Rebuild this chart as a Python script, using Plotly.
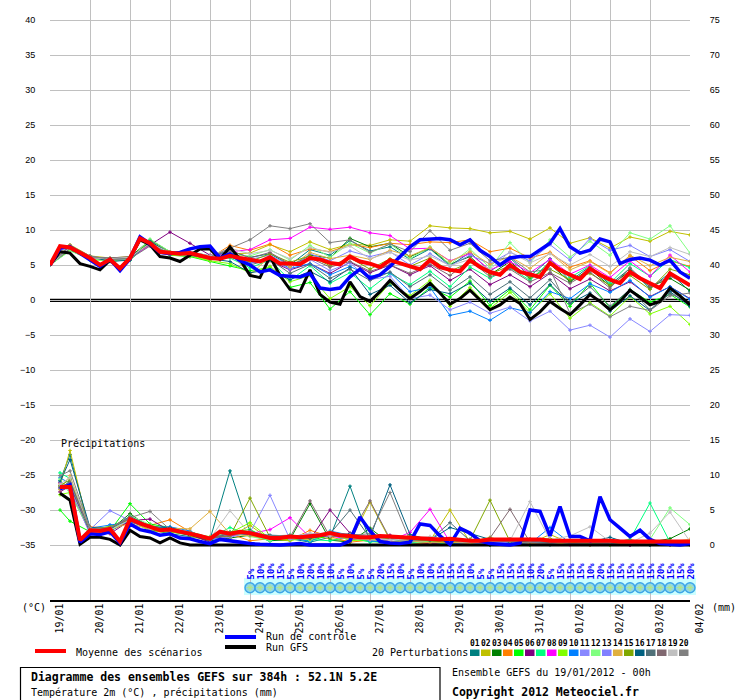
import plotly.graph_objects as go

# ---- time axis ----
day_labels = ["19/01", "20/01", "21/01", "22/01", "23/01", "24/01", "25/01", "26/01",
              "27/01", "28/01", "29/01", "30/01", "31/01", "01/02", "02/02", "03/02", "04/02"]
day_hours = list(range(0, 385, 24))
hours6 = list(range(0, 385, 6))
hours12 = list(range(0, 385, 12))
rain_hours6 = hours6[1:]
rain_hours12 = [6] + hours12[1:]

# ---- main runs, temperature (6h) ----
mean_temp = [5.0, 7.7, 7.5, 6.7, 6.0, 5.0, 5.8, 4.5, 6.0, 8.8, 8.1, 6.9, 6.7, 6.6, 6.7, 6.3,
             6.0, 5.9, 6.3, 6.0, 5.7, 5.5, 6.1, 5.2, 5.2, 5.1, 6.0, 5.8, 5.3, 5.1, 6.2, 5.5,
             5.2, 4.7, 5.7, 5.2, 4.8, 4.4, 5.7, 4.7, 4.3, 4.1, 5.7, 4.7, 4.0, 3.6, 5.0, 4.0,
             3.6, 3.3, 5.3, 4.3, 3.6, 3.0, 4.5, 3.6, 2.9, 2.4, 4.0, 3.1, 2.4, 1.7, 3.8, 2.9, 2.1]
ctrl_temp = [5.0, 7.4, 7.6, 6.7, 5.8, 4.8, 5.8, 4.2, 5.9, 9.0, 8.0, 6.8, 6.6, 6.8, 7.3, 7.6,
             7.7, 6.0, 6.6, 5.6, 5.0, 4.0, 4.3, 3.5, 3.4, 3.3, 3.8, 1.7, 1.5, 1.7, 3.3, 4.4,
             3.1, 3.6, 4.8, 6.2, 7.6, 8.6, 8.7, 8.8, 8.6, 7.9, 8.6, 7.1, 6.2, 5.0, 6.0, 6.2,
             6.2, 7.1, 8.1, 10.2, 7.6, 6.7, 7.1, 8.7, 8.3, 5.2, 5.8, 6.0, 5.7, 5.0, 5.7, 4.0, 3.1]
gfs_temp = [5.0, 6.9, 6.7, 5.2, 4.8, 4.3, 5.7, 4.5, 6.0, 8.6, 7.9, 6.2, 6.0, 5.5, 6.4, 7.3,
            7.3, 5.8, 7.6, 5.8, 3.5, 3.2, 6.2, 3.5, 1.5, 1.2, 4.3, 0.8, -0.3, -0.6, 2.6, 0.5,
            -0.2, 1.2, 2.8, 1.4, 0.2, 1.2, 2.4, 1.0, -0.6, 0.2, 1.4, 0.0, -1.4, -0.7, 0.4, -0.5,
            -2.8, -1.7, -0.2, -1.2, -2.1, -0.7, 0.8, -0.2, -1.4, -0.2, 1.4, 0.4, -0.7, -0.2, 1.7, 0.6, -0.7]

# ---- main runs, precipitation (6h, mm) ----
mean_rain = [8.3, 8.3, 0.7, 2.1, 2.0, 2.3, 0.5, 3.7, 3.1, 2.6, 2.1, 2.2, 1.9, 1.7, 1.3, 0.9,
             1.9, 1.6, 1.9, 1.7, 1.3, 1.0, 1.0, 1.2, 1.1, 1.2, 1.4, 1.7, 1.4, 1.3, 1.1, 1.1,
             1.3, 1.2, 1.1, 1.0, 0.9, 0.9, 0.8, 0.9, 0.7, 0.6, 0.6, 0.8, 0.8, 0.8, 0.8, 0.9,
             0.8, 0.6, 0.6, 0.6, 0.7, 0.6, 0.6, 0.6, 0.5, 0.5, 0.6, 0.6, 0.5, 0.5, 0.6, 0.5]
ctrl_rain = [8.0, 8.6, 0.4, 1.6, 1.5, 1.9, 0.3, 3.0, 2.2, 1.9, 1.4, 1.6, 1.0, 0.9, 0.5, 0.2,
             0.8, 0.6, 0.3, 0.2, 0.1, 0.0, 0.0, 0.1, 0.2, 0.0, 0.0, 0.1, 0.0, 0.6, 4.0, 2.0,
             0.5, 0.3, 0.2, 0.4, 3.0, 2.8, 1.3, 0.1, 2.4, 1.7, 0.6, 0.2, 0.1, 0.0, 0.3, 5.0,
             4.8, 1.3, 5.5, 1.2, 1.2, 0.6, 6.9, 3.6, 2.4, 1.2, 2.1, 0.8, 0.2, 0.1, 0.0, 0.2]
gfs_rain = [7.4, 6.4, 0.1, 1.1, 1.1, 0.8, 0.0, 2.1, 1.2, 1.0, 0.3, 1.0, 0.3, 0.0, 0.0, 0.0,
            0.1, 0.0, 0.0, 0.0, 0.0, 0.0, 0.0, 0.0, 0.0, 0.0, 0.0, 0.0, 0.0, 0.0, 0.0, 0.0,
            0.0, 0.0, 0.0, 0.0, 0.0, 0.0, 0.0, 0.0, 0.0, 0.0, 0.0, 0.0, 0.0, 0.0, 0.0, 0.0,
            0.0, 0.0, 0.0, 0.0, 0.0, 0.0, 0.0, 0.0, 0.0, 0.0, 0.0, 0.0, 0.0, 0.0, 0.0, 0.0]

# ---- 20 perturbations, temperature (12h) ----
p01_temp = [5.0, 7.3, 6.2, 5.6, 5.8, 8.4, 6.5, 6.9, 6.3, 7.0, 6.1, 6.6, 5.0, 7.2, 6.4, 8.5, 7.0, 7.6, 5.8, 7.3, 4.9, 6.8, 4.1, 6.0, 3.4, 5.9, 2.7, 4.8, 2.2, 4.5, 1.6, 3.9, 1.2]
p02_temp = [5.0, 7.9, 6.3, 6.0, 6.2, 8.0, 6.8, 6.4, 5.7, 6.6, 6.7, 7.9, 6.9, 8.3, 7.2, 8.0, 7.8, 8.6, 8.4, 10.6, 10.3, 10.2, 9.6, 9.8, 8.7, 10.3, 8.1, 8.9, 7.4, 9.0, 8.4, 9.8, 9.3]
p03_temp = [5.0, 7.1, 5.8, 5.9, 6.1, 8.6, 6.9, 6.5, 5.9, 6.2, 5.4, 5.9, 4.8, 6.4, 6.0, 8.8, 7.6, 8.1, 6.2, 7.4, 5.1, 6.2, 3.6, 5.5, 3.0, 5.1, 2.6, 4.4, 2.0, 4.2, 1.9, 3.1, 1.4]
p04_temp = [5.0, 7.6, 6.1, 5.7, 5.9, 7.9, 6.6, 6.8, 6.0, 7.8, 7.1, 8.0, 6.4, 7.3, 6.9, 7.9, 7.5, 8.1, 7.9, 8.3, 8.2, 8.6, 6.9, 7.4, 6.0, 6.8, 4.7, 5.6, 3.9, 6.3, 4.2, 5.6, 4.8]
p05_temp = [5.0, 7.4, 5.9, 5.6, 5.7, 8.3, 6.4, 6.2, 5.5, 4.9, 4.2, 4.6, 1.8, 2.5, -1.3, 1.2, -2.1, 0.9, -0.6, 1.8, 0.4, 2.7, -0.8, 1.5, -1.4, 2.1, -0.9, 2.4, -1.1, 1.5, -0.3, 0.8, -1.0]
p06_temp = [5.0, 7.2, 6.0, 5.9, 6.0, 7.9, 9.7, 8.1, 6.4, 6.5, 5.4, 5.6, 4.3, 5.2, 3.8, 5.4, 3.9, 5.0, 3.6, 4.9, 2.8, 4.4, 2.2, 3.6, 1.9, 3.8, 1.6, 3.0, 1.3, 2.6, 0.5, 1.9, 0.2]
p07_temp = [5.0, 7.5, 5.7, 5.8, 6.1, 8.2, 6.6, 6.6, 6.0, 6.0, 4.6, 5.7, 2.8, 4.9, 2.4, 3.9, 1.6, 3.8, 2.2, 4.1, 1.9, 4.7, 3.1, 4.6, 2.8, 5.5, 3.2, 4.9, 2.4, 5.2, 3.4, 5.8, 4.6]
p08_temp = [5.0, 7.7, 6.1, 5.8, 6.0, 7.8, 6.6, 6.5, 6.0, 6.9, 7.2, 8.6, 8.8, 10.4, 10.1, 10.4, 9.6, 9.2, 7.3, 7.4, 5.6, 6.6, 4.3, 5.5, 3.9, 5.8, 3.7, 5.0, 3.2, 5.6, 3.4, 6.4, 4.0]
p09_temp = [5.0, 7.3, 5.8, 5.6, 5.8, 8.5, 6.4, 6.3, 5.6, 5.2, 3.9, 4.8, 2.6, 3.5, 0.2, 1.9, -0.8, 2.4, 0.6, 2.8, -0.9, 1.8, -1.2, 1.1, -1.8, 0.9, -2.6, -0.4, -2.3, 0.5, -2.0, -0.9, -3.5]
p10_temp = [5.0, 7.6, 6.0, 5.9, 5.9, 8.2, 6.6, 6.8, 6.2, 6.9, 5.2, 6.1, 4.5, 5.2, 3.6, 4.8, 3.4, 3.9, 1.2, 1.8, -2.2, -1.6, -2.9, -1.1, -1.8, 1.2, 0.2, 2.3, 1.1, 2.8, 0.4, 1.9, 0.1]
p11_temp = [5.0, 7.5, 6.0, 5.7, 5.9, 8.1, 6.7, 6.9, 6.1, 6.5, 5.8, 6.4, 4.9, 5.8, 4.2, 5.3, 2.9, 3.4, 0.2, 0.7, -1.4, -0.3, -1.9, -1.0, -3.0, -1.6, -4.3, -3.6, -5.3, -2.7, -4.5, -2.1, -2.2]
p12_temp = [5.0, 7.0, 5.9, 5.5, 5.8, 8.7, 6.9, 6.6, 6.1, 6.4, 6.3, 7.2, 5.7, 7.8, 6.1, 8.1, 6.7, 8.0, 5.9, 7.6, 5.1, 7.3, 4.6, 8.2, 5.3, 8.6, 6.1, 8.4, 6.4, 9.6, 8.7, 10.6, 6.7]
p13_temp = [5.0, 7.4, 6.2, 5.9, 6.1, 8.0, 6.5, 6.7, 6.1, 6.2, 5.3, 5.9, 4.4, 6.6, 5.6, 7.0, 6.2, 6.9, 5.0, 6.6, 4.9, 6.4, 5.2, 6.8, 5.6, 7.9, 5.7, 8.8, 7.1, 7.8, 6.2, 7.2, 5.5]
p14_temp = [5.0, 7.8, 6.0, 5.8, 6.1, 8.0, 6.7, 6.6, 5.8, 6.8, 3.6, 6.2, 4.7, 6.8, 5.9, 6.4, 5.8, 7.1, 6.3, 7.5, 5.5, 6.9, 5.1, 6.2, 4.5, 6.7, 4.3, 5.5, 3.8, 6.4, 4.9, 6.1, 5.5]
p15_temp = [5.0, 7.5, 6.1, 5.8, 6.0, 8.3, 6.8, 6.7, 6.0, 6.1, 5.5, 6.6, 5.4, 6.3, 4.9, 6.0, 4.4, 5.9, 4.8, 6.0, 4.1, 5.4, 3.7, 4.9, 3.3, 4.4, 2.9, 3.8, 2.1, 3.5, 1.5, 4.4, 3.6]
p16_temp = [5.0, 7.6, 6.2, 5.5, 5.7, 8.4, 6.7, 6.4, 5.9, 5.5, 3.9, 4.3, 2.9, 4.1, 2.6, 4.6, 0.8, 2.1, -0.4, 1.5, 0.9, 2.4, -0.2, 1.7, -0.7, 2.2, -0.5, 1.0, -1.6, 0.6, -1.5, 1.2, -0.9]
p17_temp = [5.0, 7.4, 6.0, 5.9, 6.0, 8.2, 6.6, 6.8, 6.0, 6.3, 5.0, 5.8, 3.8, 5.1, 3.1, 4.4, 2.8, 4.0, 1.9, 3.6, 1.4, 3.3, 0.8, 2.6, 0.3, 2.9, -0.4, 1.9, -0.9, 1.5, -1.4, 0.9, -0.4]
p18_temp = [5.0, 7.7, 6.1, 6.0, 6.2, 8.0, 6.5, 6.9, 6.2, 7.1, 6.0, 6.8, 5.1, 6.0, 4.7, 5.5, 4.1, 5.0, 3.8, 5.1, 3.5, 5.7, 3.3, 4.4, 2.6, 3.9, 2.4, 4.0, 1.7, 4.6, 1.9, 3.4, 2.1]
p19_temp = [5.0, 7.5, 6.0, 5.9, 6.1, 8.1, 6.8, 6.9, 6.3, 7.4, 6.6, 7.1, 5.9, 7.5, 6.8, 7.7, 5.9, 6.8, 5.7, 6.3, 4.9, 5.8, 4.4, 6.9, 5.3, 6.6, 5.0, 6.5, 4.8, 6.9, 6.2, 7.5, 6.5]
p20_temp = [5.0, 7.8, 6.3, 5.8, 5.9, 7.7, 6.6, 6.4, 6.1, 7.4, 8.6, 10.6, 10.2, 10.9, 8.2, 8.6, 6.8, 8.0, 6.9, 9.9, 7.1, 8.1, 5.6, 6.1, 4.0, 4.4, -1.9, -0.6, -2.4, -0.9, -1.5, 0.6, 1.0]

# ---- 20 perturbations, precipitation (6h then 12h, mm) ----
p01_rain = [9.2, 12.9, 1.8, 2.0, 3.4, 2.2, 1.6, 1.2, 0.8, 10.6, 1.9, 0.7, 0.9, 0.4, 1.1, 8.4, 0.6, 0.4, 0.2, 0.1, 0.8, 0.3, 0.0, 0.4, 0.2, 0.0, 0.1, 0.0, 0.3, 0.0, 0.0, 0.2, 0.1]
p02_rain = [8.4, 13.5, 1.5, 2.6, 3.9, 2.1, 2.4, 1.3, 0.5, 1.2, 2.8, 0.8, 0.6, 1.4, 0.9, 0.5, 6.1, 0.7, 1.3, 0.6, 5.0, 0.4, 1.1, 0.3, 0.2, 1.5, 0.3, 0.8, 0.2, 0.4, 0.0, 0.6, 0.3]
p03_rain = [8.0, 9.1, 2.2, 2.1, 4.5, 2.4, 1.9, 1.4, 0.6, 1.0, 1.4, 0.6, 0.8, 5.9, 0.7, 0.4, 2.4, 0.2, 0.6, 0.3, 0.5, 0.1, 0.0, 0.2, 0.6, 0.1, 0.2, 0.3, 0.1, 0.0, 0.4, 0.9, 2.3]
p04_rain = [8.8, 8.1, 2.6, 2.4, 3.2, 2.8, 3.6, 1.9, 0.9, 1.6, 0.6, 0.9, 0.7, 2.1, 1.2, 0.4, 0.7, 1.1, 0.3, 0.2, 0.4, 0.6, 0.2, 0.3, 0.1, 0.5, 0.2, 0.0, 0.3, 0.8, 0.2, 0.0, 0.1]
p05_rain = [5.0, 3.4, 1.9, 2.0, 5.9, 3.0, 2.5, 1.6, 0.7, 1.9, 2.2, 0.8, 1.0, 0.6, 1.4, 0.9, 0.5, 0.3, 0.8, 0.6, 0.2, 0.4, 0.1, 0.2, 0.0, 0.3, 0.1, 0.2, 0.0, 0.1, 0.0, 0.0, 0.1]
p06_rain = [7.6, 8.4, 2.5, 1.6, 3.5, 3.7, 2.0, 1.5, 0.4, 1.3, 2.0, 1.1, 0.9, 0.8, 5.0, 1.7, 0.9, 1.4, 0.5, 0.2, 0.3, 0.2, 0.4, 0.6, 0.8, 0.2, 0.1, 0.4, 0.2, 0.0, 0.0, 0.3, 0.0]
p07_rain = [10.3, 9.5, 2.3, 2.2, 3.8, 2.7, 2.1, 1.8, 1.0, 2.5, 1.4, 0.6, 1.5, 0.8, 0.6, 1.2, 0.4, 0.9, 0.3, 0.5, 0.0, 0.2, 0.6, 0.1, 0.0, 0.3, 0.2, 0.1, 0.2, 0.8, 6.0, 0.4, 0.3]
p08_rain = [8.9, 7.8, 1.7, 2.4, 4.0, 2.3, 2.4, 1.7, 0.8, 1.4, 1.6, 2.2, 3.9, 1.1, 1.3, 0.8, 1.0, 0.6, 1.8, 5.1, 0.4, 0.3, 0.7, 0.2, 0.4, 0.2, 0.0, 0.6, 0.1, 0.0, 0.2, 0.0, 0.4]
p09_rain = [7.2, 7.5, 2.0, 2.7, 3.6, 2.0, 1.8, 1.6, 1.2, 1.7, 3.2, 0.9, 0.7, 0.9, 1.8, 0.6, 0.8, 0.5, 0.6, 0.9, 0.2, 0.8, 0.3, 0.5, 0.3, 0.4, 0.6, 0.2, 0.0, 0.3, 0.1, 0.2, 0.0]
p10_rain = [9.6, 8.8, 2.4, 2.9, 3.3, 2.5, 2.6, 2.0, 0.7, 1.5, 1.9, 1.2, 1.1, 0.5, 2.0, 1.4, 0.6, 0.3, 0.4, 0.8, 0.3, 0.1, 0.5, 0.4, 0.2, 2.5, 0.3, 0.2, 0.5, 0.1, 0.0, 0.1, 0.2]
p11_rain = [8.1, 8.0, 1.6, 2.5, 3.7, 2.6, 2.3, 1.5, 0.9, 1.1, 1.8, 7.1, 0.8, 1.2, 1.5, 1.0, 0.7, 0.8, 0.6, 0.4, 0.6, 0.3, 0.2, 0.6, 0.3, 0.5, 0.4, 0.1, 0.2, 0.3, 0.1, 0.0, 0.2]
p12_rain = [9.4, 7.3, 2.1, 2.0, 4.2, 2.9, 2.0, 1.9, 1.1, 1.8, 1.2, 0.7, 1.4, 0.7, 1.9, 1.1, 0.9, 0.4, 0.2, 0.6, 0.5, 0.4, 0.3, 0.2, 0.5, 0.6, 0.4, 0.2, 0.3, 0.2, 0.8, 5.3, 2.9]
p13_rain = [8.6, 8.7, 2.2, 4.9, 3.5, 2.4, 2.2, 1.8, 0.8, 1.5, 1.6, 1.3, 1.2, 1.6, 1.7, 1.2, 1.3, 0.8, 0.7, 0.9, 0.6, 0.5, 0.2, 0.4, 0.3, 0.2, 0.3, 0.4, 0.1, 0.2, 0.3, 0.6, 0.4]
p14_rain = [7.9, 9.9, 2.0, 2.2, 3.1, 2.2, 2.4, 2.3, 4.8, 1.6, 1.3, 0.9, 1.0, 0.8, 1.6, 0.9, 0.8, 0.5, 0.6, 0.3, 0.4, 0.2, 0.6, 0.7, 0.2, 0.1, 0.3, 0.5, 0.6, 0.3, 0.2, 0.5, 0.8]
p15_rain = [8.5, 9.3, 2.3, 2.6, 3.6, 2.8, 2.1, 1.7, 1.0, 1.3, 6.7, 1.1, 1.2, 0.9, 1.5, 1.0, 1.2, 0.9, 0.7, 0.6, 0.4, 0.7, 6.4, 0.5, 0.8, 0.9, 0.4, 0.2, 0.3, 0.2, 0.4, 0.3, 0.5]
p16_rain = [9.0, 12.2, 2.5, 2.3, 3.9, 2.6, 2.5, 1.7, 0.9, 1.7, 1.5, 1.4, 1.3, 1.0, 1.4, 1.6, 1.1, 8.6, 1.5, 0.7, 2.5, 1.6, 0.8, 0.4, 0.6, 0.3, 0.5, 0.4, 1.1, 0.2, 0.4, 0.3, 0.2]
p17_rain = [8.3, 8.5, 1.8, 2.3, 4.1, 2.7, 2.2, 1.6, 0.8, 1.8, 1.5, 1.0, 1.3, 1.3, 1.6, 5.0, 1.0, 1.2, 0.8, 0.7, 3.2, 0.6, 0.4, 0.9, 0.5, 0.3, 0.7, 0.5, 0.3, 0.4, 0.3, 0.2, 0.1]
p18_rain = [8.2, 9.0, 2.1, 2.4, 3.8, 2.4, 2.3, 1.9, 1.0, 1.4, 1.8, 1.2, 1.1, 6.3, 1.2, 1.3, 6.3, 0.9, 1.1, 0.8, 0.7, 0.5, 1.0, 5.1, 0.4, 0.6, 0.2, 0.3, 0.2, 0.5, 0.1, 0.3, 0.2]
p19_rain = [8.7, 9.6, 2.4, 2.1, 3.6, 2.3, 2.1, 1.5, 0.9, 4.9, 1.6, 1.0, 1.1, 1.7, 1.3, 1.5, 1.1, 0.7, 0.9, 1.2, 0.8, 0.4, 0.5, 0.6, 6.2, 0.7, 1.3, 2.6, 0.5, 0.3, 1.7, 4.7, 0.5]
p20_rain = [9.9, 10.6, 2.3, 2.5, 3.9, 4.8, 2.2, 1.8, 1.1, 1.7, 1.9, 1.3, 1.4, 1.2, 1.8, 1.4, 1.6, 7.5, 0.6, 0.9, 0.5, 0.8, 0.6, 0.5, 0.4, 0.2, 0.6, 0.3, 0.4, 0.2, 0.5, 0.1, 0.3]

pert_colors = ["#008080", "#c0c000", "#008000", "#ff8000", "#00ff00", "#800080", "#00ff80",
               "#ff00ff", "#80ff00", "#0080ff", "#8888ff", "#80ff80", "#8080ff", "#e0b040",
               "#80a800", "#006080", "#507078", "#806870", "#c0c0c0", "#808080"]
pert_names = ["%02d" % k for k in range(1, 21)]

# snow probability strip
snow_hours = list(range(120, 385, 6))
snow_pct = [5, 10, 10, 15, 5, 10, 20, 10, 10, 5, 10, 5, 5, 20, 15, 10, 5, 10, 10, 15, 15, 15,
            10, 5, 5, 15, 15, 15, 10, 20, 5, 15, 15, 15, 10, 20, 15, 15, 15, 15, 15, 20, 15, 15, 20]

pert_temp = [p01_temp, p02_temp, p03_temp, p04_temp, p05_temp, p06_temp, p07_temp, p08_temp,
             p09_temp, p10_temp, p11_temp, p12_temp, p13_temp, p14_temp, p15_temp, p16_temp,
             p17_temp, p18_temp, p19_temp, p20_temp]
pert_rain = [p01_rain, p02_rain, p03_rain, p04_rain, p05_rain, p06_rain, p07_rain, p08_rain,
             p09_rain, p10_rain, p11_rain, p12_rain, p13_rain, p14_rain, p15_rain, p16_rain,
             p17_rain, p18_rain, p19_rain, p20_rain]

W, H = 740, 700
ML, MR, MT, MB = 50, 50, 0, 100
MONO = "DejaVu Sans Mono"
YSPAN = 300 / 7  # 7 px per degree, 600 px plot


def px(x):
    return (x - ML) / (W - ML - MR)


def py(y):
    return (H - MB - y) / (H - MT - MB)


fig = go.Figure()

for vals, col in zip(pert_temp, pert_colors):
    fig.add_trace(go.Scatter(x=hours12, y=vals, mode="lines+markers",
                             line=dict(color=col, width=1),
                             marker=dict(symbol="cross", size=3, color=col),
                             hoverinfo="skip", showlegend=False))
for vals, col in zip(pert_rain, pert_colors):
    fig.add_trace(go.Scatter(x=rain_hours12, y=vals, yaxis="y2", mode="lines+markers",
                             line=dict(color=col, width=1),
                             marker=dict(symbol="cross", size=3, color=col),
                             hoverinfo="skip", showlegend=False))

fig.add_trace(go.Scatter(x=hours6, y=gfs_temp, mode="lines", line=dict(color="black", width=3), showlegend=False))
fig.add_trace(go.Scatter(x=hours6, y=ctrl_temp, mode="lines", line=dict(color="#0000ff", width=3.5), showlegend=False))
fig.add_trace(go.Scatter(x=hours6, y=mean_temp, mode="lines", line=dict(color="#ff0000", width=4), showlegend=False))
fig.add_trace(go.Scatter(x=rain_hours6, y=gfs_rain, yaxis="y2", mode="lines", line=dict(color="black", width=3), showlegend=False))
fig.add_trace(go.Scatter(x=rain_hours6, y=ctrl_rain, yaxis="y2", mode="lines", line=dict(color="#0000ff", width=3.5), showlegend=False))
fig.add_trace(go.Scatter(x=rain_hours6, y=mean_rain, yaxis="y2", mode="lines", line=dict(color="#ff0000", width=4), showlegend=False))

# snow icons
strip_y = [-41.1] * len(snow_hours)
fig.add_trace(go.Scatter(x=snow_hours, y=strip_y, mode="markers", cliponaxis=False,
                         marker=dict(symbol="circle", size=10, color="#8cd6f4",
                                     line=dict(color="#3ea6e6", width=1.5)),
                         hoverinfo="skip", showlegend=False))
fig.add_trace(go.Scatter(x=snow_hours, y=strip_y, mode="markers", cliponaxis=False,
                         marker=dict(symbol="asterisk-open", size=6,
                                     line=dict(color="#e8f8ff", width=1)),
                         hoverinfo="skip", showlegend=False))

shapes = []
# double zero line
for yv in (0.1, -0.19):
    shapes.append(dict(type="line", xref="paper", yref="y", x0=0, x1=1, y0=yv, y1=yv,
                       line=dict(color="black", width=1.3), layer="between"))
# snow strip band
shapes.append(dict(type="rect", xref="paper", yref="paper", x0=px(244), x1=px(696),
                   y0=py(595), y1=py(578), fillcolor="#ccffff", line=dict(width=0), layer="between"))
# legend lines
shapes.append(dict(type="line", xref="paper", yref="paper", x0=px(225), x1=px(256), y0=py(637), y1=py(637),
                   line=dict(color="#0000ff", width=4)))
shapes.append(dict(type="line", xref="paper", yref="paper", x0=px(225), x1=px(256), y0=py(647), y1=py(647),
                   line=dict(color="black", width=4)))
shapes.append(dict(type="line", xref="paper", yref="paper", x0=px(35), x1=px(66), y0=py(651), y1=py(651),
                   line=dict(color="#ff0000", width=4)))
# perturbation swatches
for k, col in enumerate(pert_colors):
    shapes.append(dict(type="rect", xref="paper", yref="paper", x0=px(470 + 11 * k), x1=px(479.5 + 11 * k),
                       y0=py(656), y1=py(649.5), fillcolor=col, line=dict(width=0)))
# title box
shapes.append(dict(type="rect", xref="paper", yref="paper", x0=px(20.5), x1=px(440), y0=py(701), y1=py(667.5),
                   line=dict(color="black", width=1.2)))

ann = []


def text(x, y, s, size=10, xanchor="left", color="black", **kw):
    ann.append(dict(x=px(x), y=py(y), xref="paper", yref="paper", text=s, showarrow=False,
                    xanchor=xanchor, yanchor=kw.pop("yanchor", "middle"),
                    font=dict(family=MONO, size=size, color=color), **kw))


for h, lab in zip(day_hours, day_labels):
    ann.append(dict(x=h, y=py(602), xref="x", yref="paper", text=lab, showarrow=False,
                    textangle=-90, xanchor="left", yanchor="top", xshift=1,
                    font=dict(family=MONO, size=10, color="black")))
for h, pct in zip(snow_hours, snow_pct):
    ann.append(dict(x=h, y=py(582), xref="x", yref="paper", text="<b>%d%%</b>" % pct, showarrow=False,
                    textangle=-90, xanchor="center", yanchor="bottom",
                    font=dict(family=MONO, size=9, color="#0000ff")))

text(20, 607, "(°C)")
text(710, 607, "(mm)")
text(59, 443, "Précipitations")
text(264, 636.5, "Run de contrôle")
text(264, 647, "Run GFS")
text(74, 652, "Moyenne des scénarios")
text(370, 652, "20 Perturbations")
for k, name in enumerate(pert_names):
    text(474.75 + 11 * k, 643, "<b>%s</b>" % name, size=8, xanchor="center")
text(29, 677, "<b>Diagramme des ensembles GEFS sur 384h : 52.1N 5.2E</b>", size=11.5)
text(29, 692, "Température 2m (°C) , précipitations (mm)")
text(450, 672, "Ensemble GEFS du 19/01/2012 - 00h")
text(450, 692, "<b>Copyright 2012 Meteociel.fr</b>", size=11.5)

fig.update_layout(
    width=W, height=H, margin=dict(l=ML, r=MR, t=MT, b=MB),
    paper_bgcolor="white", plot_bgcolor="white",
    xaxis=dict(range=[0, 384], tickvals=day_hours, showticklabels=False, showgrid=True,
               gridcolor="#c0c0c0", gridwidth=1, zeroline=False, showline=True,
               linecolor="black", linewidth=2, ticks=""),
    yaxis=dict(range=[-YSPAN, YSPAN], tickvals=list(range(-35, 41, 5)), showgrid=True,
               gridcolor="#c0c0c0", gridwidth=1, zeroline=False, ticks="outside", ticklen=12,
               tickcolor="rgba(0,0,0,0)", tickfont=dict(family="Liberation Sans", size=9, color="black")),
    yaxis2=dict(range=[-YSPAN + 35, YSPAN + 35], tickvals=list(range(0, 76, 5)), overlaying="y",
                side="right", showgrid=False, zeroline=False, ticks="outside", ticklen=17,
                tickcolor="rgba(0,0,0,0)", tickfont=dict(family="Liberation Sans", size=9, color="black")),
    shapes=shapes, annotations=ann,
)

# the page body has a default 8px margin; drop it so the figure sits at the window corner
fig.write_html("out.html", config={"displayModeBar": False},
               post_script="document.body.style.margin='0px';")
